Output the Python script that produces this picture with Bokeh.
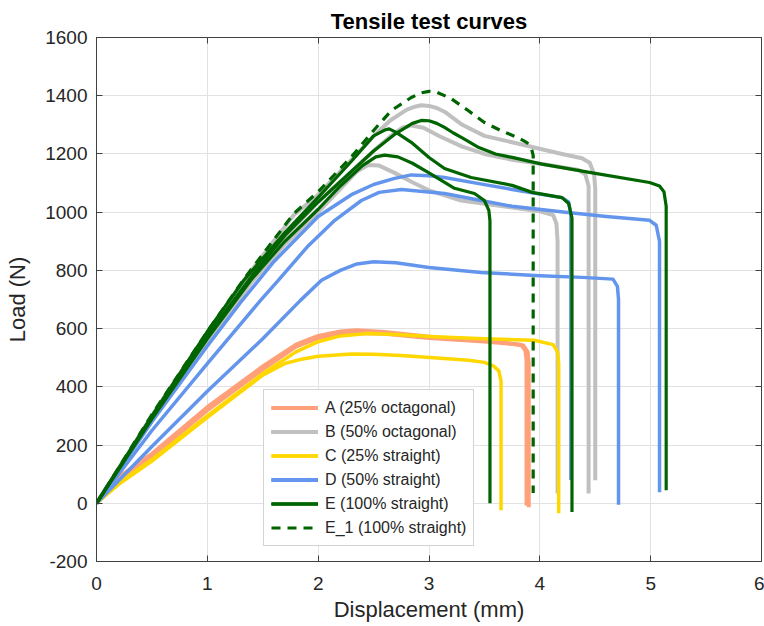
from bokeh.plotting import figure
from bokeh.models import LinearAxis, FixedTicker, Legend, LegendItem, Range1d
from bokeh.embed import file_html
from bokeh.resources import INLINE

# ---------------- data (displacement mm, load N) ----------------
a1_x = [0, 0.2, 0.5, 1.0, 1.5, 1.8, 2.0, 2.2, 2.35, 2.6, 3.05, 3.66, 3.85, 3.89, 3.9, 3.9]
a1_y = [0, 90, 170, 330, 470, 545, 575, 590, 594, 588, 570, 553, 542, 520, 480, -14]
a2_x = [0, 0.2, 0.5, 1.0, 1.5, 1.8, 2.0, 2.3, 2.6, 3.0, 3.5, 3.83, 3.87, 3.88, 3.88]
a2_y = [0, 80, 160, 320, 460, 538, 568, 585, 582, 568, 556, 545, 525, 490, -8]

b1_x = [0, 0.5, 1.0, 1.33, 1.78, 2.0, 2.3, 2.51, 2.65, 2.8, 2.88, 2.93, 3.0, 3.07, 3.14, 3.3, 3.5, 3.75, 3.95, 4.2, 4.38, 4.45, 4.49, 4.5, 4.5]
b1_y = [0, 300, 585, 766, 990, 1060, 1180, 1265, 1315, 1352, 1363, 1367, 1365, 1358, 1345, 1300, 1262, 1240, 1222, 1200, 1185, 1170, 1130, 1080, 79]
b2_x = [0, 0.5, 1.0, 1.4, 1.7, 2.0, 2.3, 2.5, 2.65, 2.76, 2.84, 2.95, 3.1, 3.3, 3.5, 3.75, 4.08, 4.35, 4.41, 4.44, 4.44]
b2_y = [0, 295, 575, 780, 915, 1035, 1140, 1210, 1260, 1290, 1298, 1290, 1260, 1225, 1200, 1180, 1162, 1145, 1130, 1090, 34]
b3_x = [0, 0.5, 1.0, 1.4, 1.7, 2.0, 2.2, 2.35, 2.45, 2.55, 2.69, 2.85, 3.0, 3.29, 3.75, 4.0, 4.12, 4.15, 4.16, 4.16]
b3_y = [0, 290, 560, 760, 890, 1000, 1080, 1140, 1162, 1160, 1135, 1103, 1075, 1040, 1016, 1003, 990, 960, 900, 34]

c1_x = [0, 0.2, 0.5, 1.0, 1.5, 1.8, 2.0, 2.2, 2.45, 2.7, 3.05, 3.5, 3.95, 4.12, 4.16, 4.17, 4.17]
c1_y = [0, 70, 150, 300, 445, 520, 555, 575, 583, 580, 572, 565, 560, 545, 520, 480, -34]
c2_x = [0, 0.2, 0.5, 1.0, 1.5, 1.7, 1.85, 2.0, 2.3, 2.5, 2.75, 3.36, 3.5, 3.58, 3.63, 3.65, 3.65]
c2_y = [0, 65, 145, 295, 440, 480, 495, 505, 513, 512, 508, 491, 484, 472, 455, 420, -24]

d1_x = [0, 0.5, 1.0, 1.3, 1.6, 2.0, 2.3, 2.5, 2.69, 2.84, 3.0, 3.14, 3.45, 3.75, 4.0, 4.2, 4.26, 4.28, 4.28]
d1_y = [0, 280, 540, 690, 830, 985, 1060, 1095, 1116, 1128, 1125, 1119, 1098, 1078, 1062, 1050, 1035, 990, 80]
d2_x = [0, 0.5, 1.0, 1.48, 1.64, 1.9, 2.15, 2.39, 2.55, 2.75, 3.14, 3.47, 3.75, 4.23, 4.6, 4.99, 5.05, 5.08, 5.08]
d2_y = [0, 250, 480, 697, 766, 880, 972, 1040, 1068, 1078, 1064, 1040, 1020, 1000, 985, 972, 955, 900, 38]
d3_x = [0, 0.5, 1.0, 1.5, 1.84, 2.03, 2.2, 2.35, 2.5, 2.7, 3.0, 3.47, 4.0, 4.38, 4.66, 4.7, 4.71, 4.71]
d3_y = [0, 195, 385, 565, 697, 766, 800, 822, 830, 826, 810, 793, 782, 776, 770, 745, 700, -5]

e1_x = [0, 0.5, 1.0, 1.4, 1.7, 2.0, 2.3, 2.5, 2.7, 2.85, 2.93, 3.0, 3.07, 3.14, 3.22, 3.3, 3.45, 3.6, 3.75, 4.02, 4.5, 4.99, 5.08, 5.12, 5.14, 5.14]
e1_y = [0, 295, 575, 780, 920, 1035, 1140, 1210, 1270, 1305, 1315, 1314, 1305, 1291, 1272, 1255, 1222, 1200, 1188, 1165, 1133, 1102, 1090, 1070, 1020, 45]
e2_x = [0, 0.5, 1.0, 1.33, 1.7, 2.0, 2.3, 2.5, 2.6, 2.64, 2.7, 2.84, 3.0, 3.14, 3.38, 3.75, 3.93, 4.2, 4.26, 4.29, 4.29]
e2_y = [0, 300, 590, 766, 930, 1051, 1175, 1262, 1282, 1286, 1275, 1240, 1188, 1150, 1119, 1092, 1068, 1050, 1030, 980, -30]
e3_x = [0, 0.5, 1.0, 1.4, 1.7, 2.0, 2.2, 2.4, 2.52, 2.6, 2.72, 2.85, 3.0, 3.23, 3.41, 3.5, 3.54, 3.55, 3.55]
e3_y = [0, 290, 565, 770, 900, 1010, 1090, 1160, 1190, 1196, 1190, 1168, 1135, 1082, 1064, 1040, 1006, 970, 0]
e4_x = [0, 0.5, 1.0, 1.33, 1.78, 2.0, 2.3, 2.51, 2.66, 2.84, 2.93, 3.0, 3.07, 3.2, 3.35, 3.5, 3.65, 3.81, 3.88, 3.92, 3.94, 3.94]
e4_y = [0, 305, 590, 770, 995, 1070, 1190, 1285, 1349, 1394, 1410, 1415, 1412, 1390, 1350, 1308, 1280, 1255, 1240, 1225, 1195, 35]

x_ticks = [0, 1, 2, 3, 4, 5, 6]
y_ticks = [-200, 0, 200, 400, 600, 800, 1000, 1200, 1400, 1600]
y_tick_labels = ["-200", "0", "200", "400", "600", "800", "1000", "1200", "1400", "1600"]
labels = ["A (25% octagonal)", "B (50% octagonal)", "C (25% straight)",
          "D (50% straight)", "E (100% straight)", "E_1 (100% straight)"]

FONT = "Liberation Sans"
TXT = "#262626"
AX = "#404040"

p = figure(width=764, height=626,
           x_range=Range1d(0, 6), y_range=Range1d(-200, 1600),
           output_backend="svg", toolbar_location=None,
           min_border_left=96, min_border_right=3, min_border_top=37, min_border_bottom=65,
           title="Tensile test curves")
p.background_fill_color = "white"
p.border_fill_color = "white"
p.outline_line_color = AX
p.outline_line_width = 1

p.title.align = "center"
p.title.text_font = FONT
p.title.text_font_size = "22px"
p.title.text_font_style = "bold"
p.title.text_color = "black"
p.title.standoff = 7

for ax in (p.xaxis[0], p.yaxis[0]):
    ax.axis_line_color = AX
    ax.major_tick_line_color = AX
    ax.major_tick_in = 6
    ax.major_tick_out = 0
    ax.minor_tick_line_color = None
    ax.major_label_text_font = FONT
    ax.major_label_text_font_size = "19px"
    ax.major_label_text_color = TXT
    ax.axis_label_text_font = FONT
    ax.axis_label_text_font_size = "22px"
    ax.axis_label_text_font_style = "normal"
    ax.axis_label_text_color = TXT

p.xaxis[0].ticker = FixedTicker(ticks=x_ticks)
p.yaxis[0].ticker = FixedTicker(ticks=y_ticks)
p.yaxis[0].major_label_overrides = {t: s for t, s in zip(y_ticks, y_tick_labels)}
p.xaxis[0].axis_label = "Displacement (mm)"
p.yaxis[0].axis_label = "Load (N)"
p.xaxis[0].major_label_standoff = 15
p.yaxis[0].major_label_standoff = 9
p.xaxis[0].axis_label_standoff = 4
p.yaxis[0].axis_label_standoff = 12

top = LinearAxis(ticker=FixedTicker(ticks=x_ticks))
right = LinearAxis(ticker=FixedTicker(ticks=y_ticks))
for ax in (top, right):
    ax.axis_line_color = None
    ax.major_tick_line_color = AX
    ax.major_tick_in = 6
    ax.major_tick_out = 0
    ax.minor_tick_line_color = None
    ax.major_label_text_font_size = "1px"
    ax.major_label_text_color = None
    ax.major_label_standoff = 0
p.add_layout(top, "above")
p.add_layout(right, "right")

p.xgrid.ticker = FixedTicker(ticks=x_ticks)
p.ygrid.ticker = FixedTicker(ticks=y_ticks)
p.grid.grid_line_color = "#e2e2e2"
p.grid.grid_line_width = 1

SAL, GRY, GLD, BLU, GRN = "#FFA07A", "#C0C0C0", "#FFD700", "#6495ED", "#006400"

def draw(xs, ys, color, w=3.5, dash="solid"):
    return p.line(xs, ys, line_color=color, line_width=w, line_dash=dash,
                  line_join="round", line_cap="butt")

ra = [draw(a1_x, a1_y, SAL, 4), draw(a2_x, a2_y, SAL, 4)]
rb = [draw(b1_x, b1_y, GRY, 4), draw(b2_x, b2_y, GRY, 4), draw(b3_x, b3_y, GRY, 4)]
rc = [draw(c1_x, c1_y, GLD, 3.5), draw(c2_x, c2_y, GLD, 3.5)]
rd = [draw(d1_x, d1_y, BLU, 3.5), draw(d2_x, d2_y, BLU, 3.5), draw(d3_x, d3_y, BLU, 3.5)]
re = [draw(e1_x, e1_y, GRN, 3.2), draw(e2_x, e2_y, GRN, 3.2), draw(e3_x, e3_y, GRN, 3.2)]
rf = [draw(e4_x, e4_y, GRN, 3.2, "9 7")]

legend = Legend(items=[LegendItem(label=l, renderers=r) for l, r in
                       zip(labels, [ra, rb, rc, rd, re, rf])],
                location=(167, 15))
legend.margin = 0
legend.padding = 7
legend.spacing = 3
legend.glyph_width = 47
legend.glyph_height = 21
legend.label_height = 21
legend.label_standoff = 7
legend.label_text_font = FONT
legend.label_text_font_size = "16px"
legend.label_text_color = TXT
legend.border_line_color = "#a8a8a8"
legend.border_line_width = 1
legend.background_fill_color = "white"
legend.background_fill_alpha = 1
p.add_layout(legend, "center")

open("out.html", "w").write(file_html(p, INLINE))
